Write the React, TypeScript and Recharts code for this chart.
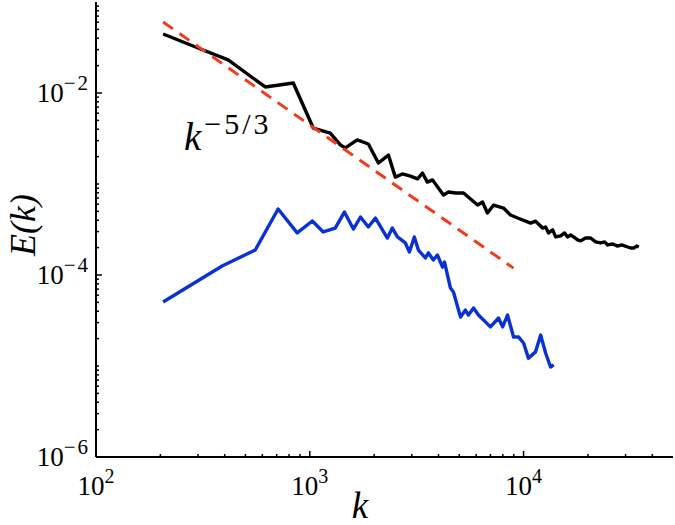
import React from 'react';
import { LineChart, Line, XAxis, YAxis } from 'recharts';

const SERIF = "'Liberation Serif', 'DejaVu Serif', serif";

// wavenumber k and energy E(k)
const blackK = [206, 317, 415, 619, 837, 1038, 1247, 1390, 1466, 1667, 1879, 2094, 2333, 2512, 2710, 2958, 3192, 3365, 3548, 3750, 4217, 4457, 4808, 5236, 6095, 6427, 6776, 7244, 8054, 8690, 9376, 10790, 11380, 12270, 12680, 13090, 13680, 14130, 14900, 15560, 16070, 16600, 17140, 17900, 18500, 19500, 20590, 21730, 22960, 23950, 24740, 26120, 27540, 28770, 30690, 31700, 32740, 33810, 34590];
const blackE = [0.0445, 0.0297, 0.0231, 0.01164, 0.01288, 0.00412, 0.00363, 0.00269, 0.00249, 0.00305, 0.00275, 0.0017, 0.00208, 0.00119, 0.00129, 0.00122, 0.00114, 0.00132, 0.00105, 0.00111, 0.000757, 0.000817, 0.000796, 0.000796, 0.000587, 0.000634, 0.00048, 0.000587, 0.000544, 0.000456, 0.000423, 0.000372, 0.00039, 0.000328, 0.000337, 0.00029, 0.000313, 0.000262, 0.000269, 0.00029, 0.000262, 0.000275, 0.000262, 0.000243, 0.000237, 0.000255, 0.000255, 0.000231, 0.000225, 0.000231, 0.000214, 0.000219, 0.000208, 0.000214, 0.000203, 0.000198, 0.000198, 0.000208, 0.000203];

const blueK = [206, 389, 556, 711, 873, 1028, 1156, 1315, 1452, 1600, 1726, 1879, 2028, 2307, 2432, 2570, 2799, 2924, 3083, 3221, 3475, 3589, 3784, 3954, 4178, 4266, 4550, 4699, 5070, 5346, 5521, 5834, 6152, 6998, 7638, 7980, 8414, 8974, 9484, 10000, 10540, 11380, 12020, 12680, 13370, 13840];
const blueE = [5.05e-5, 1.256e-4, 1.884e-4, 5.31e-4, 2.9e-4, 3.92e-4, 2.97e-4, 3.28e-4, 4.92e-4, 3.2e-4, 4.34e-4, 3.37e-4, 4.23e-4, 2.55e-4, 3.28e-4, 2.62e-4, 2.25e-4, 1.79e-4, 2.62e-4, 1.88e-4, 1.54e-4, 1.75e-4, 1.46e-4, 1.66e-4, 1.22e-4, 1.39e-4, 7.19e-5, 6.5e-5, 3.45e-5, 4.12e-5, 3.63e-5, 4.34e-5, 3.63e-5, 2.69e-5, 3.37e-5, 2.69e-5, 3.63e-5, 2.08e-5, 2.08e-5, 1.79e-5, 1.22e-5, 1.43e-5, 2.19e-5, 1.39e-5, 9.75e-6, 1.03e-5];

const refK = [206, 8974];
const refE = [0.0603, 1.19e-4];

const kMajorTicks = [100, 1000, 10000];
const eMajorTicks = [1e-6, 1e-4, 1e-2];
const kDomain = [100, 50000];
const eDomain = [1e-6, 1e-1];

const toRows = (ks: number[], es: number[]) => ks.map((k, i) => ({ k, e: es[i] }));
const blackData = toRows(blackK, blackE);
const blueData = toRows(blueK, blueE);
const refData = toRows(refK, refE);

const kMinor: number[] = [];
[100, 1000, 10000].forEach((d) => {
  for (let m = 2; m <= 9; m++) {
    const v = m * d;
    if (v < kDomain[1]) kMinor.push(v);
  }
});
const kTicks = [...kMajorTicks, ...kMinor].sort((a, b) => a - b);

const eMinor: number[] = [];
[1e-6, 1e-5, 1e-4, 1e-3, 1e-2].forEach((d) => {
  for (let m = 1; m <= 9; m++) {
    const v = parseFloat((m * d).toPrecision(3));
    if (eMajorTicks.includes(v)) continue;
    if (v < eDomain[1]) eMinor.push(v);
  }
});
const eTicks = [...eMajorTicks, ...eMinor].sort((a, b) => a - b);

const isMajor = (v: number, majors: number[]) => majors.some((m) => Math.abs(m - v) / m < 1e-6);
const expOf = (v: number) => {
  const n = Math.round(Math.log10(v));
  return n < 0 ? '\u2212' + String(-n) : String(n);
};

const MAJ = 6;
const MIN = 3;
const TICK_W = 1.5;
const serifStyle = { fontFamily: SERIF };

const BottomTick = (p: any) => {
  const { x, y, payload } = p;
  const maj = isMajor(payload.value, kMajorTicks);
  return (
    <g>
      <line x1={x} y1={y} x2={x} y2={y - (maj ? MAJ : MIN)} stroke="#000" strokeWidth={TICK_W} />
      {maj && (
        <text x={x} y={y + 38} textAnchor="middle" style={serifStyle} fontSize={27} fill="#000">
          10<tspan dy={-12} fontSize={20}>{expOf(payload.value)}</tspan>
        </text>
      )}
    </g>
  );
};

const TopTick = (p: any) => {
  const { x, y, payload } = p;
  const maj = isMajor(payload.value, kMajorTicks);
  return <line x1={x} y1={y} x2={x} y2={y + (maj ? MAJ : MIN)} stroke="#000" strokeWidth={TICK_W} />;
};

const LeftTick = (p: any) => {
  const { x, y, payload } = p;
  const maj = isMajor(payload.value, eMajorTicks);
  return (
    <g>
      <line x1={x} y1={y} x2={x + (maj ? MAJ : MIN)} y2={y} stroke="#000" strokeWidth={TICK_W} />
      {maj && (
        <text x={x - 6} y={y + 9} textAnchor="end" style={serifStyle} fontSize={27} fill="#000">
          10<tspan dy={-12} fontSize={21} letterSpacing={2}>{expOf(payload.value)}</tspan>
        </text>
      )}
    </g>
  );
};

const RightTick = (p: any) => {
  const { x, y, payload } = p;
  const maj = isMajor(payload.value, eMajorTicks);
  return <line x1={x} y1={y} x2={x - (maj ? MAJ : MIN)} y2={y} stroke="#000" strokeWidth={TICK_W} />;
};

const axisLine = { stroke: '#000', strokeWidth: 2 };

export default function App() {
  return (
    <div style={{ width: 675, height: 525, background: '#fff' }}>
      <style>{'body{margin:0;background:#fff}'}</style>
      <LineChart width={675} height={525} margin={{ top: 2, right: 2, bottom: 0, left: 0 }}>
        <XAxis
          xAxisId="b"
          dataKey="k"
          type="number"
          scale="log"
          domain={kDomain}
          allowDataOverflow
          ticks={kTicks}
          interval={0}
          orientation="bottom"
          height={68}
          tickSize={0}
          tickMargin={0}
          tickLine={false}
          axisLine={axisLine}
          tick={BottomTick}
        />
        <XAxis
          xAxisId="t"
          dataKey="k"
          type="number"
          scale="log"
          domain={kDomain}
          allowDataOverflow
          ticks={kTicks}
          interval={0}
          orientation="top"
          height={0}
          tickSize={0}
          tickMargin={0}
          tickLine={false}
          axisLine={axisLine}
          tick={TopTick}
        />
        <YAxis
          yAxisId="l"
          type="number"
          scale="log"
          domain={eDomain}
          allowDataOverflow
          ticks={eTicks}
          interval={0}
          orientation="left"
          width={96}
          tickSize={0}
          tickMargin={0}
          tickLine={false}
          axisLine={axisLine}
          tick={LeftTick}
        />
        <YAxis
          yAxisId="r"
          type="number"
          scale="log"
          domain={eDomain}
          allowDataOverflow
          ticks={eTicks}
          interval={0}
          orientation="right"
          width={0}
          tickSize={0}
          tickMargin={0}
          tickLine={false}
          axisLine={axisLine}
          tick={RightTick}
        />
        <Line xAxisId="t" yAxisId="r" data={refData} dataKey="e" stroke="none" dot={false} isAnimationActive={false} />
        <Line xAxisId="b" yAxisId="l" data={blackData} dataKey="e" stroke="#000" strokeWidth={3.4} strokeLinejoin="round" dot={false} isAnimationActive={false} />
        <Line xAxisId="b" yAxisId="l" data={blueData} dataKey="e" stroke="#0a32d2" strokeWidth={3.4} strokeLinejoin="round" dot={false} isAnimationActive={false} />
        <Line xAxisId="b" yAxisId="l" data={refData} dataKey="e" stroke="#f03c1e" strokeWidth={3} strokeDasharray="12 8" dot={false} isAnimationActive={false} />
        <text x={184} y={150} style={serifStyle} fontStyle="italic" fontSize={39} fill="#000">
          k<tspan dy={-16} dx={3} fontStyle="normal" fontSize={30} letterSpacing={3}>{'\u22125/3'}</tspan>
        </text>
        <text x={35} y={225} transform="rotate(-90 35 225)" textAnchor="middle" style={serifStyle} fontStyle="italic" fontSize={36} fill="#000">
          E(k)
        </text>
        <text x={360} y={518} textAnchor="middle" style={serifStyle} fontStyle="italic" fontSize={37} fill="#000">
          k
        </text>
      </LineChart>
    </div>
  );
}
